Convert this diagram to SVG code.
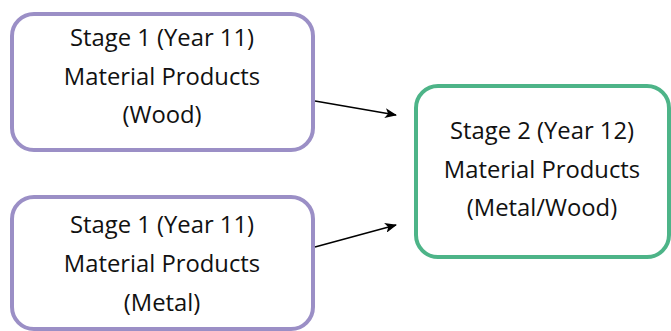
<svg xmlns="http://www.w3.org/2000/svg" width="671" height="331" viewBox="0 0 671 331">
<style>
.s1{fill:#fff;stroke:#9b8fc6;stroke-width:4}
.s2{fill:#fff;stroke:#4db488;stroke-width:4}
text{font-family:"Open Sans","Noto Sans",sans-serif;font-size:23.8px;fill:#111;text-anchor:middle}
.c{stroke:#000;stroke-width:1.6;fill:none}
</style>
<defs>
<marker id="ah" markerWidth="12" markerHeight="10" refX="11" refY="5" orient="auto" markerUnits="userSpaceOnUse">
<path d="M0,0 L12,5 L0,10 L3,5 Z" fill="#000"/>
</marker>
</defs>
<g id="n1">
<rect class="s1" x="12" y="14" width="301" height="136" rx="22"/>
<text x="162" y="46">Stage 1 (Year 11)</text>
<text x="162" y="85">Material Products</text>
<text x="162" y="123">(Wood)</text>
</g>
<g id="n2">
<rect class="s1" x="12" y="197" width="301" height="132" rx="22"/>
<text x="162" y="233">Stage 1 (Year 11)</text>
<text x="162" y="272">Material Products</text>
<text x="162" y="311">(Metal)</text>
</g>
<g id="n3">
<rect class="s2" x="416" y="86" width="253" height="171" rx="22"/>
<text x="542" y="139">Stage 2 (Year 12)</text>
<text x="542" y="178">Material Products</text>
<text x="542" y="216">(Metal/Wood)</text>
</g>
<g id="connectors">
<line class="c" x1="315" y1="101" x2="396" y2="115" marker-end="url(#ah)"/>
<line class="c" x1="315" y1="247" x2="396" y2="225" marker-end="url(#ah)"/>
</g>
</svg>
